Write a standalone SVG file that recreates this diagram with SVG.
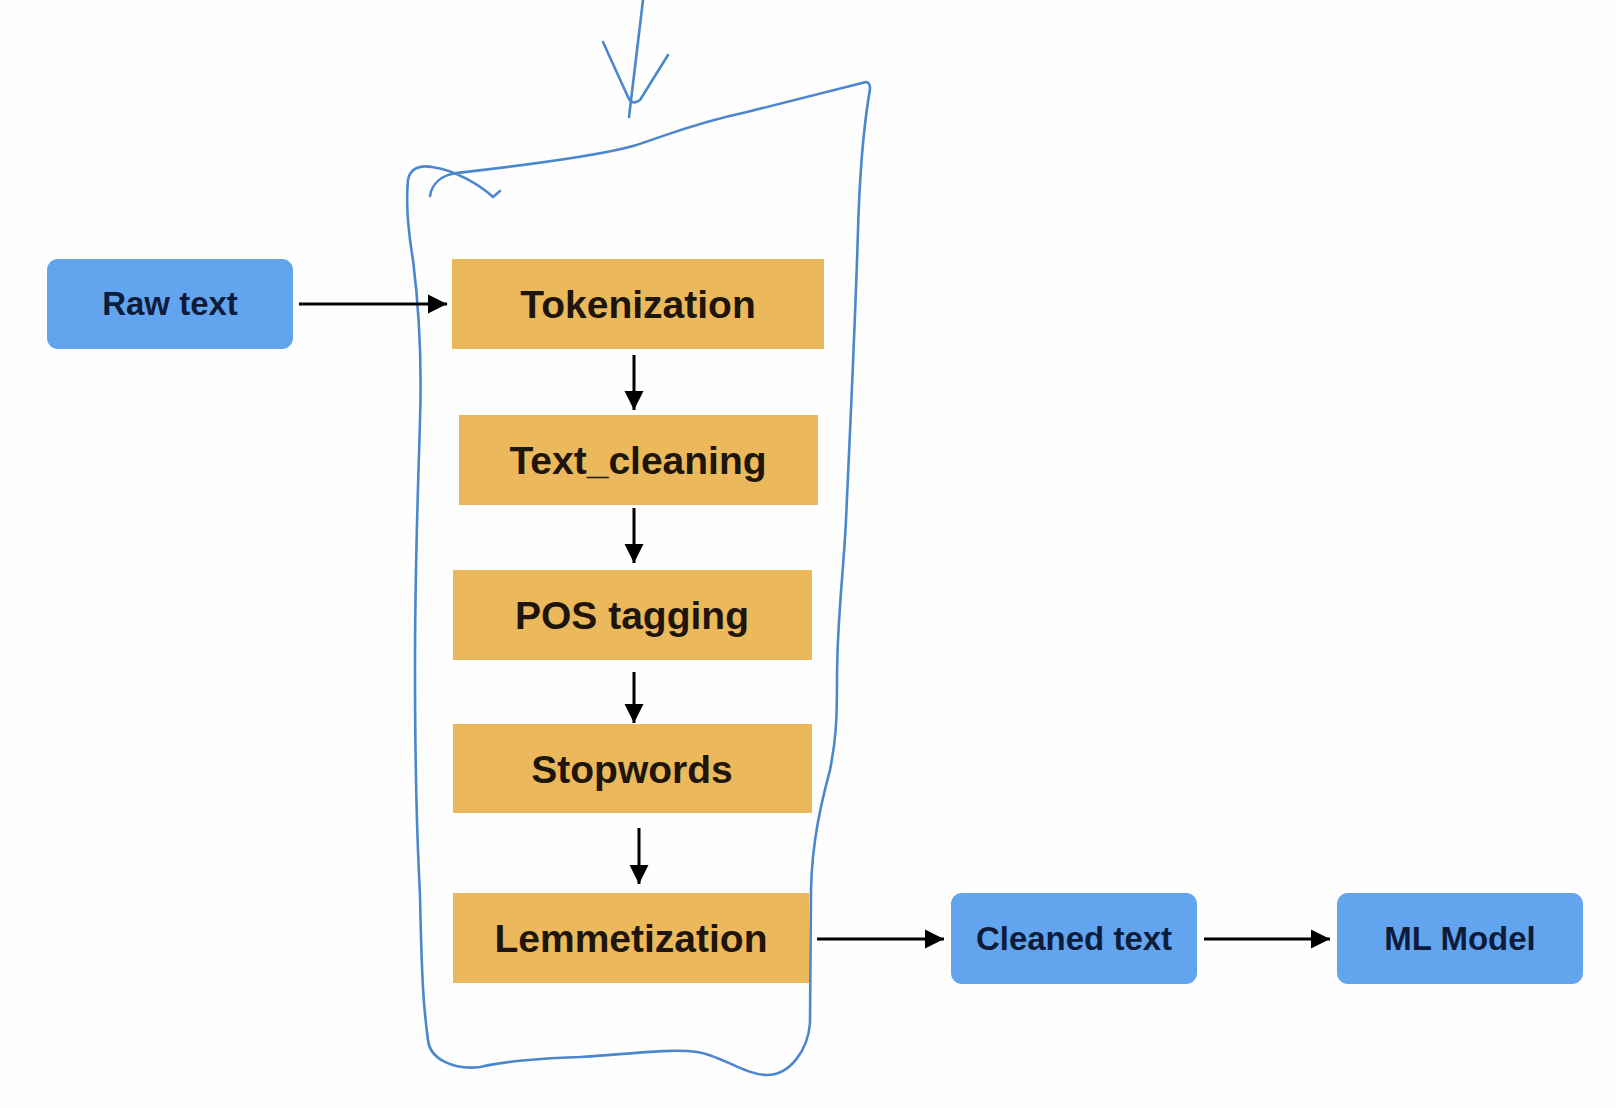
<svg xmlns="http://www.w3.org/2000/svg" width="1616" height="1108" viewBox="0 0 1616 1108">
<defs>
<style>
.blue{fill:#62a5ee;}
.orange{fill:#ebb95b;}
.bt{font-family:"Liberation Sans",Arial,sans-serif;font-weight:bold;font-size:33px;fill:#0e1c3c;text-anchor:middle;}
.ot{font-family:"Liberation Sans",Arial,sans-serif;font-weight:bold;font-size:39px;fill:#1e160c;text-anchor:middle;}
.edge{stroke:#000;stroke-width:3;fill:none;}
.ink{stroke:#4a87cc;stroke-width:2.6;fill:none;stroke-linecap:round;stroke-linejoin:round;}
</style>
<marker id="ah" viewBox="0 0 10 10" refX="10" refY="5" markerWidth="6.5" markerHeight="6.5" markerUnits="strokeWidth" orient="auto">
<path d="M0,0 L10,5 L0,10 Z" fill="#000"/>
</marker>
</defs>
<rect width="1616" height="1108" fill="#fefefe"/>

<g id="annotation">
<path class="ink" d="M643,0 L629,117"/>
<path class="ink" d="M603,42 L628,97 Q632,106 640,100 L668,55"/>
<path class="ink" d="M457,173 C500,168 590,158 633,146 C660,138 690,124 747,112 L866,82 Q872,83 869,95 C865,120 860,160 858,230 C855,330 850,430 846,520 C843,580 837,620 837,680 C837,720 836,740 830,770 C822,800 812,840 811,890 L810,1023 C808,1050 790,1075 767,1075 C745,1075 720,1055 697,1052 C670,1048 620,1055 580,1057 C540,1058 500,1062 480,1067 C455,1070 430,1060 428,1040 C424,1010 422,990 420,896 C418,850 415,810 415,667 C415,560 418,494 420,420 C422,360 418,300 413,260 C408,230 406,200 408,180 C410,168 420,165 432,167 C455,170 480,185 493,197 L500,191"/>
<path class="ink" d="M430,196 C432,183 442,175 457,173"/>
</g>

<g id="connectors">
<line class="edge" x1="299" y1="304" x2="447" y2="304" marker-end="url(#ah)"/>
<line class="edge" x1="634" y1="355" x2="634" y2="410" marker-end="url(#ah)"/>
<line class="edge" x1="634" y1="508" x2="634" y2="563" marker-end="url(#ah)"/>
<line class="edge" x1="634" y1="672" x2="634" y2="723" marker-end="url(#ah)"/>
<line class="edge" x1="639" y1="828" x2="639" y2="884" marker-end="url(#ah)"/>
<line class="edge" x1="817" y1="939" x2="944" y2="939" marker-end="url(#ah)"/>
<line class="edge" x1="1204" y1="939" x2="1330" y2="939" marker-end="url(#ah)"/>
</g>

<g id="raw-text">
<rect class="blue" x="47" y="259" width="246" height="90" rx="11"/>
<text class="bt" x="170" y="315">Raw text</text>
</g>
<g id="tokenization">
<rect class="orange" x="452" y="259" width="372" height="90"/>
<text class="ot" x="638" y="318">Tokenization</text>
</g>
<g id="text-cleaning">
<rect class="orange" x="459" y="415" width="359" height="90"/>
<text class="ot" x="638" y="474">Text_cleaning</text>
</g>
<g id="pos-tagging">
<rect class="orange" x="453" y="570" width="359" height="90"/>
<text class="ot" x="632" y="629">POS tagging</text>
</g>
<g id="stopwords">
<rect class="orange" x="453" y="724" width="359" height="89"/>
<text class="ot" x="632" y="783">Stopwords</text>
</g>
<g id="lemmetization">
<rect class="orange" x="453" y="893" width="356" height="90"/>
<text class="ot" x="631" y="952">Lemmetization</text>
</g>
<g id="cleaned-text">
<rect class="blue" x="951" y="893" width="246" height="91" rx="11"/>
<text class="bt" x="1074" y="950">Cleaned text</text>
</g>
<g id="ml-model">
<rect class="blue" x="1337" y="893" width="246" height="91" rx="11"/>
<text class="bt" x="1460" y="950">ML Model</text>
</g>
</svg>
